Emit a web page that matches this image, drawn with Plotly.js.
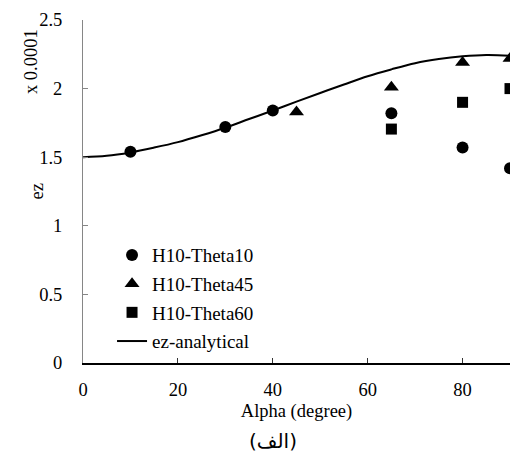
<!DOCTYPE html>
<html>
<head>
<meta charset="utf-8">
<script src="https://cdn.plot.ly/plotly-3.0.1.min.js"></script>
<style>html,body{margin:0;padding:0;background:#fff;overflow:hidden;}</style>
</head>
<body>
<div id="chart" style="width:510px;height:457px;"></div>
<script>
// Data (values in units of 1e-4)
const alphaTheta10 = [10, 30, 40, 65, 80, 90];
const ezTheta10    = [1.54, 1.72, 1.84, 1.82, 1.57, 1.42];

const alphaTheta45 = [45, 65, 80, 90];
const ezTheta45    = [1.83, 2.01, 2.19, 2.22];

const alphaTheta60 = [65, 80, 90];
const ezTheta60    = [1.705, 1.90, 2.00];

const alphaAnalytical = [0, 5, 10, 15, 20, 25, 30, 35, 40, 45, 50, 55, 60, 65, 70, 75, 80, 85, 90];
const ezAnalytical    = [1.50, 1.51, 1.535, 1.57, 1.61, 1.66, 1.715, 1.778, 1.84, 1.905, 1.968, 2.03, 2.09, 2.14, 2.185, 2.215, 2.235, 2.245, 2.24];

const xTickVals = [0, 20, 40, 60, 80];
const yTickVals = [0, 0.5, 1, 1.5, 2, 2.5];
const yTickText = ['0', '0.5', '1', '1.5', '2', '2.5'];

const serif = 'Liberation Serif, Times New Roman, serif';

const traces = [
  {x: alphaTheta10, y: ezTheta10, name: 'H10-Theta10', mode: 'markers', type: 'scatter', legendgroup: 'a',
   marker: {symbol: 'circle', size: 12, color: '#000'}},
  {x: alphaTheta45, y: ezTheta45, name: 'H10-Theta45', mode: 'markers', type: 'scatter', legendgroup: 'b',
   marker: {symbol: 'triangle-up', size: 13, color: '#000'}},
  {x: alphaTheta60, y: ezTheta60, name: 'H10-Theta60', mode: 'markers', type: 'scatter', legendgroup: 'c',
   marker: {symbol: 'square', size: 11, color: '#000'}},
  {x: alphaAnalytical, y: ezAnalytical, name: 'ez-analytical', mode: 'lines', type: 'scatter', legendgroup: 'd',
   line: {color: '#000', width: 2, shape: 'spline', smoothing: 1}}
];

const layout = {
  width: 510, height: 457,
  margin: {l: 83, r: 0, t: 20, b: 94},
  paper_bgcolor: '#fff', plot_bgcolor: '#fff',
  font: {family: serif, size: 18.5, color: '#000'},
  showlegend: true,
  legend: {x: 0.068, y: 0.37, xanchor: 'left', yanchor: 'top', bgcolor: 'rgba(0,0,0,0)',
           font: {family: serif, size: 19, color: '#000'}, tracegroupgap: 1},
  xaxis: {
    range: [0, 90], tickvals: xTickVals, ticks: 'inside', ticklen: 5, tickcolor: '#333',
    showline: true, linecolor: '#000', linewidth: 2, showgrid: false, zeroline: false,
    tickfont: {family: serif, size: 18.5}, ticklabelstandoff: 9,
    title: {text: 'Alpha (degree)', font: {family: serif, size: 18.5}, standoff: 5}
  },
  yaxis: {
    range: [0, 2.5], tickvals: yTickVals, ticktext: yTickText, ticks: 'inside', ticklen: 5, tickcolor: '#868686',
    showline: true, linecolor: '#868686', linewidth: 1, showgrid: false, zeroline: false,
    tickfont: {family: serif, size: 18.5}, ticklabelstandoff: 16
  },
  annotations: [
    {text: 'ez', xref: 'paper', yref: 'paper', x: -0.108, y: 0.5, textangle: -90,
     showarrow: false, font: {family: serif, size: 18.5}, xanchor: 'center', yanchor: 'middle'},
    {text: 'x 0.0001', xref: 'paper', yref: 'paper', x: -0.122, y: 0.88, textangle: -90,
     showarrow: false, font: {family: serif, size: 18.5}, xanchor: 'center', yanchor: 'middle'},
    {text: '(الف)', xref: 'paper', yref: 'paper', x: 0.445, y: -0.227,
     showarrow: false, font: {family: 'DejaVu Sans, Liberation Sans, sans-serif', size: 20}, xanchor: 'center', yanchor: 'middle'}
  ]
};

Plotly.newPlot('chart', traces, layout, {displayModeBar: false, staticPlot: true});
</script>
</body>
</html>
